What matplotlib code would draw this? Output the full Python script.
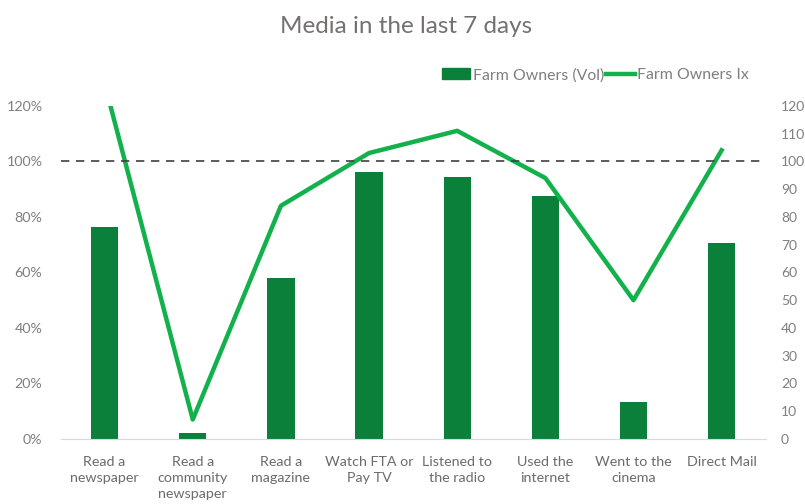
import matplotlib.pyplot as plt
import numpy as np
from matplotlib.patches import Patch
from matplotlib.lines import Line2D

plt.rcParams['font.family'] = ['Lato', 'DejaVu Sans']

categories = ['Read a\nnewspaper', 'Read a\ncommunity\nnewspaper', 'Read a\nmagazine',
              'Watch FTA or\nPay TV', 'Listened to\nthe radio', 'Used the\ninternet',
              'Went to the\ncinema', 'Direct Mail']
vol_pct = [76.3, 2.1, 58.1, 96.3, 94.3, 87.6, 13.3, 70.5]   # left axis, %
index_vals = [128, 7, 84, 103, 111, 94, 50, 104]            # right axis
ref_level = 100

bar_color = '#0A803A'
line_color = '#13B14B'
text_gray = '#7F7F7F'

fig = plt.figure(figsize=(8.05, 5.04), dpi=100)
ax = fig.add_axes([0.0752, 0.129, 0.876, 0.661])
ax2 = ax.twinx()

x = np.arange(len(categories))
ax.bar(x, vol_pct, width=0.31, color=bar_color, zorder=2)
ax.set_ylim(0, 120)
ax.set_xlim(-0.5, len(categories) - 0.5)
ax.set_yticks(np.arange(0, 121, 20))
ax.set_yticklabels([f'{v}%' for v in range(0, 121, 20)])
ax.set_xticks(x)
ax.set_xticklabels(categories, linespacing=1.42)

ax2.plot(x, index_vals, color=line_color, lw=3.2, solid_joinstyle='round', zorder=3)
ax2.plot([-0.5, len(categories) - 0.5], [ref_level, ref_level], color='#404040',
         lw=1.2, ls=(0, (5, 4)), zorder=4)
ax2.set_ylim(0, 120)
ax2.set_yticks(np.arange(0, 121, 10))

for a in (ax, ax2):
    for s in a.spines.values():
        s.set_visible(False)
    a.tick_params(length=0, labelsize=10.3, labelcolor=text_gray)
ax.spines['bottom'].set_visible(True)
ax.spines['bottom'].set_color('#D9D9D9')
ax.tick_params(axis='y', pad=13)
ax.tick_params(axis='x', pad=12, labelsize=10.3, labelcolor='#6B6B6B')
ax2.tick_params(axis='y', pad=11, labelsize=10)

fig.text(0.505, 0.948, 'Media in the last 7 days', ha='center', va='center',
         fontsize=17.5, color='#767171')

handles = [Patch(color=bar_color), Line2D([], [], color=line_color, lw=3.2)]
fig.legend(handles, ['Farm Owners (Vol)', 'Farm Owners Ix'], ncol=2, loc='center right',
           bbox_to_anchor=(0.938, 0.851), frameon=False, fontsize=11.4,
           labelcolor=text_gray, handlelength=1.8, handleheight=0.7,
           handletextpad=0.15, columnspacing=0.15, borderaxespad=0)

fig.savefig('out.png', dpi=100)
